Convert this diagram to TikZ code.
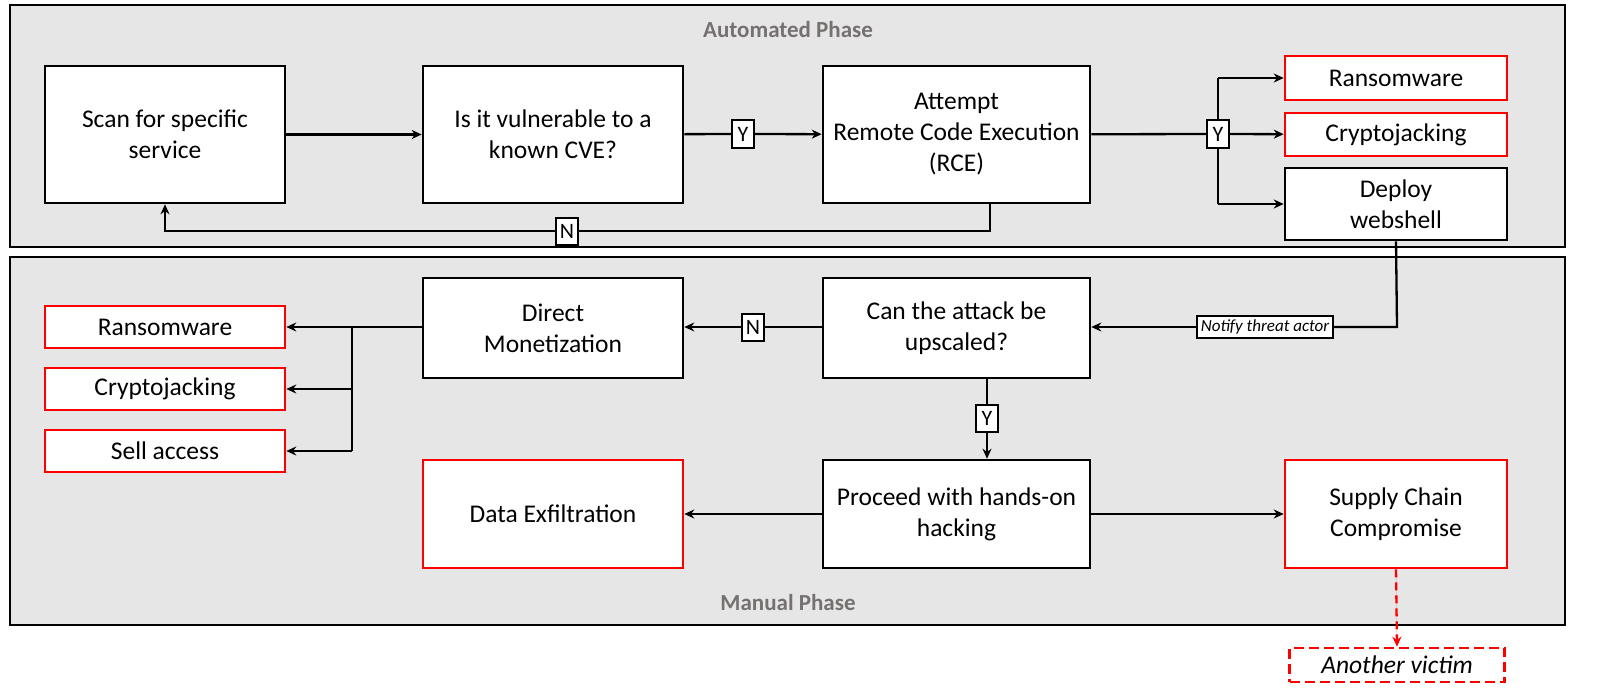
\documentclass[tikz,border=0pt]{standalone}
\usepackage{fontspec}
\setmainfont{Carlito}
\usetikzlibrary{arrows.meta}
\definecolor{panel}{HTML}{E7E6E6}
\definecolor{ttl}{HTML}{767171}
\definecolor{rd}{HTML}{FF0000}
\begin{document}
\begin{tikzpicture}[x=1pt,y=-1pt,
 box/.style={draw=black,line width=2.6pt,fill=white,align=center,font=\fontsize{25.5}{31}\selectfont,inner sep=0},
 rbox/.style={box,draw=rd},
 lab/.style={draw=black,line width=2pt,fill=white,font=\fontsize{22}{24}\selectfont,inner sep=2pt,minimum width=22,minimum height=27},
 arr/.style={line width=2.3pt,-{Stealth[length=10pt,width=9pt]}},
 ln/.style={line width=2.3pt},
 pnl/.style={draw=black,line width=1.2pt,fill=panel},
 ttl/.style={text=ttl,font=\fontsize{23}{26}\selectfont\bfseries}]
\useasboundingbox (0,0) rectangle (1600,698);
\fill[white] (0,0) rectangle (1600,698);
\draw[pnl] (10,5) rectangle (1565,247);
\draw[pnl] (10,257) rectangle (1565,625);
\node[ttl] (t1) at (788,30) {Automated Phase};
\node[ttl] (t2) at (788,603) {Manual Phase};
% top
\node[box,minimum width=240,minimum height=137] (scan) at (165,134.5) {Scan for specific\\service};
\node[box,minimum width=260,minimum height=137] (vul) at (553,134.5) {Is it vulnerable to a\\known CVE?};
\node[box,minimum width=267,minimum height=137] (rce) at (956.5,134.5) {Attempt\\Remote Code Execution\\(RCE)};
\node[rbox,minimum width=222,minimum height=44] (r1) at (1396,78) {Ransomware};
\node[rbox,minimum width=222,minimum height=43] (c1) at (1396,134.5) {Cryptojacking};
\node[box,minimum width=222,minimum height=72] (ws) at (1396,204) {Deploy\\webshell};
\draw[arr] (scan) -- (vul);
\node[lab] (y1) at (743,134) {Y};
\draw[ln] (vul) -- (y1); \draw[arr] (y1) -- (rce);
\node[lab] (y2) at (1218,134) {Y};
\draw[ln] (rce) -- (y2);
\coordinate (s1) at (1218,78); \coordinate (s3) at (1218,204);
\draw[ln] (y2) -- (s1); \draw[ln] (y2) -- (s3);
\draw[arr] (s1) -- (r1); \draw[arr] (y2) -- (c1); \draw[arr] (s3) -- (ws);
\coordinate (n0) at (990,203); \coordinate (n1) at (990,231); \coordinate (n2) at (165,231);
\node[lab] (nn) at (567,231) {N};
\draw[ln] (n0) -- (n1) -- (nn); \draw[arr] (nn) -- (n2) -- (scan.south);
% bottom
\node[box,minimum width=267,minimum height=100] (can) at (956.5,328) {Can the attack be\\upscaled?};
\node[box,minimum width=260,minimum height=100] (dm) at (553,328) {Direct\\Monetization};
\node[rbox,minimum width=240,minimum height=42] (r2) at (165,327) {Ransomware};
\node[rbox,minimum width=240,minimum height=42] (c2) at (165,389) {Cryptojacking};
\node[rbox,minimum width=240,minimum height=42] (sa) at (165,451) {Sell access};
\node[box,minimum width=267,minimum height=108] (pro) at (956.5,514) {Proceed with hands-on\\hacking};
\node[rbox,minimum width=260,minimum height=108] (de) at (553,514) {Data Exfiltration};
\node[rbox,minimum width=222,minimum height=108] (sc) at (1396,514) {Supply Chain\\Compromise};
\node[rbox,dash pattern=on 10pt off 5pt,minimum width=215,minimum height=34,font=\fontsize{25.5}{31}\selectfont\itshape] (av) at (1397,665) {Another victim};
\coordinate (w1) at (1397,327);
\node[draw=black,line width=2pt,fill=white,font=\fontsize{17}{19}\selectfont\itshape,inner sep=3.5pt] (nt) at (1265,327) {Notify threat actor};
\draw[ln] (ws.south) -- (w1) -- (nt); \draw[arr] (nt) -- (can.east|-nt);
\node[lab] (n3) at (753,327) {N};
\draw[ln] (can.west|-n3) -- (n3); \draw[arr] (n3) -- (dm.east|-n3);
\coordinate (b1) at (352,327); \coordinate (b2) at (352,389); \coordinate (b3) at (352,451);
\draw[ln] (dm.west|-b1) -- (b1) -- (b3);
\draw[arr] (b1) -- (r2); \draw[arr] (b2) -- (c2); \draw[arr] (b3) -- (sa);
\node[lab] (y3) at (987,418) {Y};
\draw[ln] (can.south-|y3) -- (y3); \draw[arr] (y3) -- (pro.north-|y3);
\draw[arr] (pro) -- (de); \draw[arr] (pro) -- (sc);
\draw[arr,draw=rd,fill=rd,dash pattern=on 8pt off 5pt] (sc.south) -- (av.north);
\end{tikzpicture}
\end{document}
